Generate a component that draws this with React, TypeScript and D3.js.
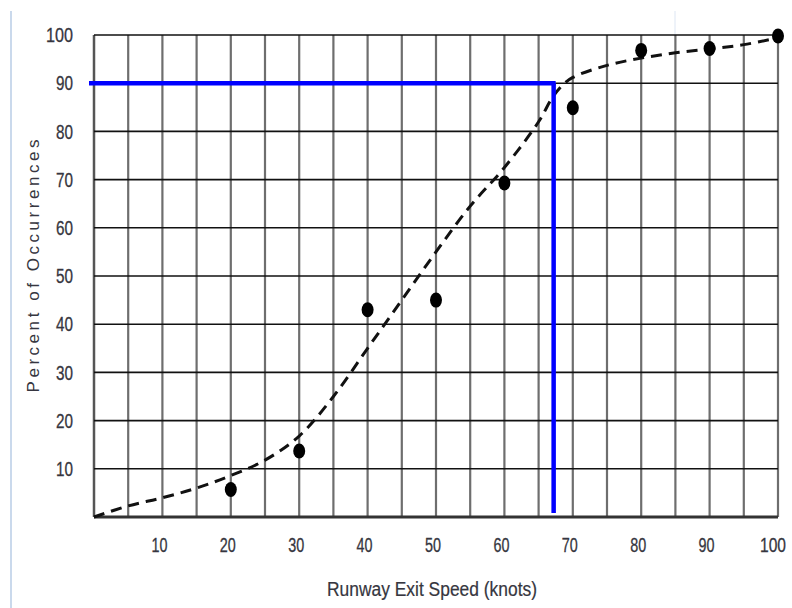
import React from "react";
import * as d3 from "d3";

const pointSpeeds = [20, 30, 40, 50, 60, 70, 80, 90, 100];
const pointPercents = [5.7, 13.7, 43, 45, 69.3, 84.9, 96.8, 97.2, 99.8];

const curveSpeeds = [0, 5, 10, 15, 20, 25, 30, 35, 40, 45, 50, 55, 60, 65, 67, 68.5, 70, 75, 80, 85, 90, 95, 100];
const curvePercents = [0, 2.3, 4, 6, 8.6, 11.8, 16.8, 25, 35, 45, 55, 64.5, 72.5, 82, 87, 89.6, 91.2, 93.7, 95.2, 96.3, 97.1, 98, 99.4];

const xTickLabels = [10, 20, 30, 40, 50, 60, 70, 80, 90, 100];
const yTickLabels = [10, 20, 30, 40, 50, 60, 70, 80, 90, 100];
const xGridValues = d3.range(0, 101, 5);
const yGridValues = d3.range(0, 101, 10);

const targetPercent = 90;
const targetSpeed = 67.2;

const xTitle = "Runway Exit Speed (knots)";
const yTitle = "Percent of Occurrences";

const W = 792;
const H = 608;
const L = 94;
const R = 778;
const T = 35;
const B = 517;

export default function App() {
  const x = d3.scaleLinear().domain([0, 100]).range([L, R]);
  const y = d3.scaleLinear().domain([0, 100]).range([B, T]);

  const curveData = curveSpeeds.map((s, i) => [s, curvePercents[i]] as [number, number]);
  const line = d3
    .line<[number, number]>()
    .x((d) => x(d[0]))
    .y((d) => y(d[1]))
    .curve(d3.curveCatmullRom.alpha(0.5));

  const tickFont = "'Liberation Sans', Arial, sans-serif";
  const textColor = "#363640";

  return (
    <svg
      width={W}
      height={H}
      viewBox={`0 0 ${W} ${H}`}
      style={{ position: "absolute", left: 0, top: 0, display: "block", background: "#fff" }}
    >
      <rect x={0} y={0} width={W} height={H} fill="#fff" />
      {/* decorative light frame lines */}
      <line x1={11} x2={11} y1={11} y2={H} stroke="#b9cde6" strokeWidth={1.5} />
      <line x1={675} x2={675} y1={11} y2={T} stroke="#dde6f3" strokeWidth={1} />

      {/* vertical grid */}
      {xGridValues.map((v) => (
        <line
          key={"vx" + v}
          x1={x(v)}
          x2={x(v)}
          y1={y(100)}
          y2={y(0)}
          stroke={v === 0 ? "#555" : "#6e6e6e"}
          strokeWidth={v === 0 ? 2.5 : 2.2}
        />
      ))}
      {/* horizontal grid */}
      {yGridValues.map((v) => (
        <line
          key={"hy" + v}
          x1={x(0)}
          x2={x(100)}
          y1={y(v)}
          y2={y(v)}
          stroke={v === 0 ? "#333" : "#111"}
          strokeWidth={v === 0 ? 3 : 1.6}
        />
      ))}

      {/* dashed fitted curve */}
      <path
        d={line(curveData) || ""}
        fill="none"
        stroke="#111"
        strokeWidth={3}
        strokeDasharray="11,7"
      />

      {/* target lines */}
      <line
        x1={x(0) - 5}
        x2={x(targetSpeed) + 2}
        y1={y(targetPercent)}
        y2={y(targetPercent)}
        stroke="#0000ff"
        strokeWidth={4.5}
      />
      <line
        x1={x(targetSpeed)}
        x2={x(targetSpeed)}
        y1={y(targetPercent)}
        y2={y(0) - 4}
        stroke="#0000ff"
        strokeWidth={4.5}
      />

      {/* points */}
      {pointSpeeds.map((s, i) => (
        <ellipse key={"p" + s} cx={x(s)} cy={y(pointPercents[i])} rx={6} ry={7.5} fill="#000" />
      ))}

      {/* y tick labels */}
      {yTickLabels.map((v) => (
        <text
          key={"yl" + v}
          x={73}
          y={y(v)}
          dy="0.36em"
          textAnchor="end"
          fontFamily={tickFont}
          fontSize={20}
          fill={textColor}
          stroke={textColor}
          strokeWidth={0.3}
          textLength={v === 100 ? 27 : 17}
          lengthAdjust="spacingAndGlyphs"
        >
          {v}
        </text>
      ))}

      {/* x tick labels */}
      {xTickLabels.map((v) => (
        <text
          key={"xl" + v}
          x={x(v) - (v === 100 ? 5 : 3)}
          y={545}
          dy="0.36em"
          textAnchor="middle"
          fontFamily={tickFont}
          fontSize={20}
          fill={textColor}
          stroke={textColor}
          strokeWidth={0.3}
          textLength={v === 100 ? 26 : 16}
          lengthAdjust="spacingAndGlyphs"
        >
          {v}
        </text>
      ))}

      {/* axis titles */}
      <text
        x={432}
        y={589}
        dy="0.36em"
        textAnchor="middle"
        fontFamily={tickFont}
        fontSize={20}
        fill={textColor}
        stroke={textColor}
        strokeWidth={0.2}
        textLength={210}
        lengthAdjust="spacingAndGlyphs"
      >
        {xTitle}
      </text>
      <text
        transform={`translate(33,266) rotate(-90)`}
        textAnchor="middle"
        dy="0.36em"
        fontFamily={tickFont}
        fontSize={17}
        fill={textColor}
        textLength={253}
        lengthAdjust="spacing"
      >
        {yTitle}
      </text>
    </svg>
  );
}
